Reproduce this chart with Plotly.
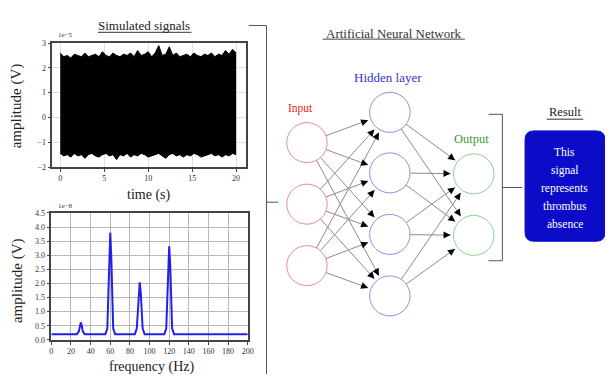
import math
import plotly.graph_objects as go

# ---------------- data ----------------
# Simulated time signal: upper / lower envelope of the dense trace (units of 1e-5 V)
SIGNAL_UPPER = [2.6, 2.45, 2.5, 2.4, 2.55, 2.5, 2.45, 2.6, 2.45, 2.5, 2.55, 2.45, 2.65,
                2.5, 2.45, 2.6, 2.5, 2.45, 2.55, 2.5, 2.6, 2.45, 2.7, 2.5, 2.55, 2.65,
                2.45, 2.6, 2.9, 2.5, 2.55, 2.85, 2.5, 2.6, 2.45, 2.5, 2.55, 2.45, 2.6,
                2.5, 2.45, 2.55, 2.5, 2.6, 2.45, 2.55, 2.5, 2.7, 2.55, 2.75, 2.6]
SIGNAL_LOWER = [-1.45, -1.55, -1.5, -1.6, -1.45, -1.55, -1.5, -1.65, -1.5, -1.45, -1.55,
                -1.6, -1.5, -1.45, -1.55, -1.5, -1.7, -1.5, -1.55, -1.45, -1.6, -1.5,
                -1.55, -1.45, -1.5, -1.6, -1.55, -1.5, -1.45, -1.55, -1.65, -1.5, -1.45,
                -1.55, -1.5, -1.6, -1.5, -1.55, -1.45, -1.5, -1.6, -1.55, -1.5, -1.45,
                -1.55, -1.5, -1.6, -1.5, -1.55, -1.45, -1.5]
TIME_S = [round(0.4 * i, 1) for i in range(len(SIGNAL_UPPER))]

# Amplitude spectrum (units of 1e-8 V)
FREQ_HZ = [0, 26, 28, 29, 30, 31, 32, 34,
           55, 57, 58, 59, 60, 61, 62, 63, 65,
           85, 87, 88, 89, 90, 91, 92, 93, 95,
           115, 117, 118, 119, 120, 121, 122, 123, 125,
           200]
SPEC_AMP = [0.2, 0.2, 0.3, 0.5, 0.62, 0.5, 0.3, 0.2,
            0.2, 0.4, 1.5, 3.0, 3.8, 3.0, 1.5, 0.4, 0.2,
            0.2, 0.4, 1.0, 1.7, 2.04, 1.7, 1.0, 0.4, 0.2,
            0.2, 0.4, 1.3, 2.7, 3.32, 2.7, 1.3, 0.4, 0.2,
            0.2]

RESULT_LINES = ["This", "signal", "represents", "thrombus", "absence"]

# ---------------- layout constants (pixels) ----------------
W, H = 611, 379
SERIF = "Liberation Serif, Times New Roman, serif"

IN_X, HID_X, OUT_X = 309, 393, 478
IN_Y = [142, 205, 268]
HID_Y = [111, 173, 236, 299]
OUT_Y = [174, 237]
R_NODE = 20.5


def py(p):
    """pixel row -> paper fraction"""
    return 1 - p / H


def px(p):
    return p / W


fig = go.Figure()

# time-domain signal drawn as the filled band between its envelopes
fig.add_trace(go.Scatter(x=TIME_S, y=SIGNAL_LOWER, mode="lines",
                         line=dict(color="black", width=1), xaxis="x", yaxis="y",
                         showlegend=False, hoverinfo="skip"))
fig.add_trace(go.Scatter(x=TIME_S, y=SIGNAL_UPPER, mode="lines", fill="tonexty",
                         fillcolor="black", line=dict(color="black", width=1),
                         xaxis="x", yaxis="y", showlegend=False, hoverinfo="skip"))

# spectrum
fig.add_trace(go.Scatter(x=FREQ_HZ, y=SPEC_AMP, mode="lines",
                         line=dict(color="#2222e6", width=2), xaxis="x2", yaxis="y2",
                         showlegend=False, hoverinfo="skip"))

# empty trace to create the pixel overlay subplot
fig.add_trace(go.Scatter(x=[], y=[], xaxis="x3", yaxis="y3", showlegend=False))

tickfont = dict(family=SERIF, size=8, color="#333")
axis_common = dict(showline=True, mirror=True, linecolor="#444", linewidth=1.5,
                   ticks="outside", ticklen=3, tickcolor="#444", tickfont=tickfont,
                   zeroline=False, fixedrange=True)

shapes = []
ann = []


def line(x0, y0, x1, y1, color="#555", width=1):
    shapes.append(dict(type="line", xref="x3", yref="y3", x0=x0, y0=y0, x1=x1, y1=y1,
                       line=dict(color=color, width=width), layer="above"))


def text(x, y, s, size=12, color="#222", angle=0):
    ann.append(dict(xref="x3", yref="y3", x=x, y=y, text=s, showarrow=False,
                    font=dict(family=SERIF, size=size, color=color), textangle=angle,
                    xanchor="center", yanchor="middle"))


# axis titles and headings
text(144, 22, "Simulated signals", 13)
line(97, 29, 192, 29, "#333", 1)
text(15, 104, "amplitude (V)", 15, angle=-90)
text(148, 196, "time (s)", 14)
text(15, 283, "amplitude (V)", 15, angle=-90)
text(151, 372, "frequency (Hz)", 14)
text(64, 32, "1e\u22125", 7, "#333")
text(64, 207, "1e\u22128", 7, "#333")

# bracket joining the signals to the network
line(250, 22, 268, 22)
line(268, 22, 268, 379)
line(268, 203, 280, 203)

text(397, 30, "Artificial Neural Network", 13, "#333")
line(325, 36, 469, 36, "#444", 1)
text(391, 75, "Hidden layer", 13, "#3434d2")
text(302, 107, "Input", 11.5, "#e02424")
text(476, 138, "Output", 12.5, "#3a9a3a")


def connect(xa, ya, xb, yb):
    dx, dy = xb - xa, yb - ya
    d = math.hypot(dx, dy)
    ux, uy = dx / d, dy / d
    sx, sy = xa + ux * R_NODE, ya + uy * R_NODE
    tx, ty = xb - ux * (R_NODE + 3), yb - uy * (R_NODE + 3)
    line(sx, sy, tx, ty, "#8c8c8c", 1)
    ann.append(dict(xref="x3", yref="y3", axref="x3", ayref="y3",
                    x=tx, y=ty, ax=tx - ux * 7, ay=ty - uy * 7, text="",
                    showarrow=True, arrowhead=2, arrowsize=1, arrowwidth=1.4,
                    arrowcolor="black"))


for yi in IN_Y:
    for yh in HID_Y:
        connect(IN_X, yi, HID_X, yh)
for yh in HID_Y:
    for yo in OUT_Y:
        connect(HID_X, yh, OUT_X, yo)


def circle(cx, cy, color):
    shapes.append(dict(type="circle", xref="x3", yref="y3", x0=cx - R_NODE, x1=cx + R_NODE,
                       y0=cy - R_NODE, y1=cy + R_NODE, line=dict(color=color, width=1),
                       fillcolor="white", layer="above"))


for yi in IN_Y:
    circle(IN_X, yi, "#e58f8f")
for yh in HID_Y:
    circle(HID_X, yh, "#8f8fe0")
for yo in OUT_Y:
    circle(OUT_X, yo, "#8fd08f")

# output bracket
line(493, 113, 507, 113)
line(507, 113, 507, 263)
line(493, 263, 507, 263)
line(507, 188, 527, 188)

# result box
text(570, 111, "Result", 12.5, "#222")
line(552, 118, 589, 118, "#333", 1)
bx0, bx1, by0, by1, rr = 530, 611, 130, 243, 9
path = (f"M {bx0+rr},{by0} L {bx1-rr},{by0} Q {bx1},{by0} {bx1},{by0+rr} "
        f"L {bx1},{by1-rr} Q {bx1},{by1} {bx1-rr},{by1} L {bx0+rr},{by1} "
        f"Q {bx0},{by1} {bx0},{by1-rr} L {bx0},{by0+rr} Q {bx0},{by0} {bx0+rr},{by0} Z")
shapes.append(dict(type="path", xref="x3", yref="y3", path=path, fillcolor="#0b0bc8",
                   line=dict(color="#0b0bc8", width=1), layer="above"))
for i, s in enumerate(RESULT_LINES):
    text(570, 152 + i * 18.3, s, 11.5, "white")

fig.update_layout(
    width=W, height=H, margin=dict(l=0, r=0, t=0, b=0),
    paper_bgcolor="white", plot_bgcolor="rgba(0,0,0,0)", showlegend=False,
    xaxis=dict(domain=[px(51), px(247)], range=[-0.9, 21.1], anchor="y",
               tickvals=[0, 5, 10, 15, 20], showgrid=True, gridcolor="#dedede", **axis_common),
    yaxis=dict(domain=[py(167), py(40)], range=[-2, 3], anchor="x",
               tickvals=[-2, -1, 0, 1, 2, 3], showgrid=True, gridcolor="#dedede", **axis_common),
    xaxis2=dict(domain=[px(50), px(249)], range=[0, 200], anchor="y2", dtick=20,
                showgrid=True, gridcolor="#b8b8b8", **axis_common),
    yaxis2=dict(domain=[py(344), py(214)], range=[0, 4.5], anchor="x2", dtick=0.5,
                tickformat=".1f", showgrid=True, gridcolor="#b8b8b8", **axis_common),
    xaxis3=dict(domain=[0, 1], range=[0, W], anchor="y3", visible=False, fixedrange=True),
    yaxis3=dict(domain=[0, 1], range=[H, 0], anchor="x3", visible=False, fixedrange=True),
    shapes=shapes, annotations=ann,
)

fig.write_html("out.html")
